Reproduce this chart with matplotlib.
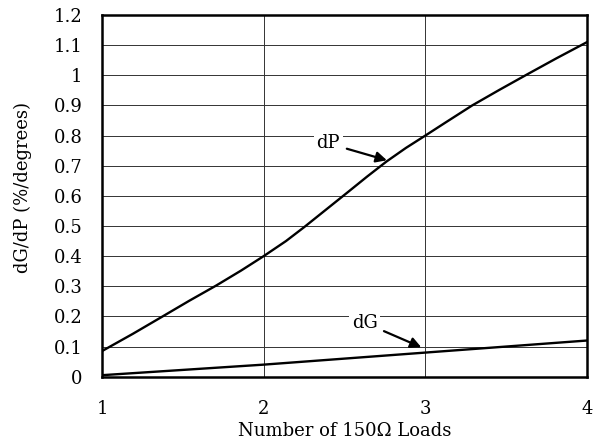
import numpy as np
import matplotlib
matplotlib.use("Agg")
import matplotlib.pyplot as plt

# data
loads_dp = [1, 1.19, 1.375, 1.54, 1.705, 1.86, 2.0, 2.138, 2.25, 2.385, 2.52,
            2.64, 2.76, 2.88, 3.0, 3.124, 3.29, 3.456, 3.63, 3.81, 4]
dp_vals = [0.085, 0.142, 0.200, 0.252, 0.302, 0.352, 0.40, 0.450, 0.496, 0.554, 0.612,
           0.664, 0.714, 0.759, 0.80, 0.843, 0.90, 0.951, 1.003, 1.056, 1.11]
loads_dg = [1, 2, 3, 4]
dg_vals = [0.005, 0.04, 0.08, 0.12]
yticks = [0, 0.1, 0.2, 0.3, 0.4, 0.5, 0.6, 0.7, 0.8, 0.9, 1, 1.1, 1.2]
ytick_labels = ["0", "0.1", "0.2", "0.3", "0.4", "0.5", "0.6", "0.7", "0.8", "0.9", "1", "1.1", "1.2"]
xticks = [1, 2, 3, 4]

plt.rcParams['font.family'] = ['DejaVu Serif']
plt.rcParams['font.size'] = 13

fig = plt.figure(figsize=(5.99, 4.46), dpi=100)
ax = fig.add_axes([0.1703, 0.1554, 0.8097, 0.811])

ax.plot(loads_dp, dp_vals, color='k', lw=1.7, zorder=3, solid_joinstyle='round')
ax.plot(loads_dg, dg_vals, color='k', lw=1.7, zorder=3, solid_joinstyle='round')

ax.set_xlim(1, 4)
ax.set_ylim(0, 1.2)
ax.set_xticks(xticks)
ax.set_yticks(yticks)
ax.set_yticklabels(ytick_labels)
ax.grid(True, color='#333333', lw=0.7)
ax.set_axisbelow(True)
ax.tick_params(axis='y', length=0, pad=14)
ax.tick_params(axis='x', length=0, pad=17)
for s in ax.spines.values():
    s.set_linewidth(1.8)

ax.set_xlabel("Number of 150\u03a9 Loads", labelpad=3)
ax.set_ylabel("dG/dP (%/degrees)")
ax.yaxis.set_label_coords(-0.145, 0.523)

# callouts
ax.annotate("dP", xy=(2.762, 0.718), xytext=(2.40, 0.774),
            ha='center', va='center',
            bbox=dict(boxstyle='square,pad=0.15', fc='white', ec='none'),
            arrowprops=dict(arrowstyle='-|>', color='k', lw=1.6,
                            mutation_scale=16, shrinkA=3, shrinkB=0),
            zorder=4)
ax.annotate("dG", xy=(2.975, 0.0975), xytext=(2.624, 0.179),
            ha='center', va='center',
            bbox=dict(boxstyle='square,pad=0.15', fc='white', ec='none'),
            arrowprops=dict(arrowstyle='-|>', color='k', lw=1.6,
                            mutation_scale=16, shrinkA=3, shrinkB=0),
            zorder=4)

fig.savefig("out.png", dpi=100)
